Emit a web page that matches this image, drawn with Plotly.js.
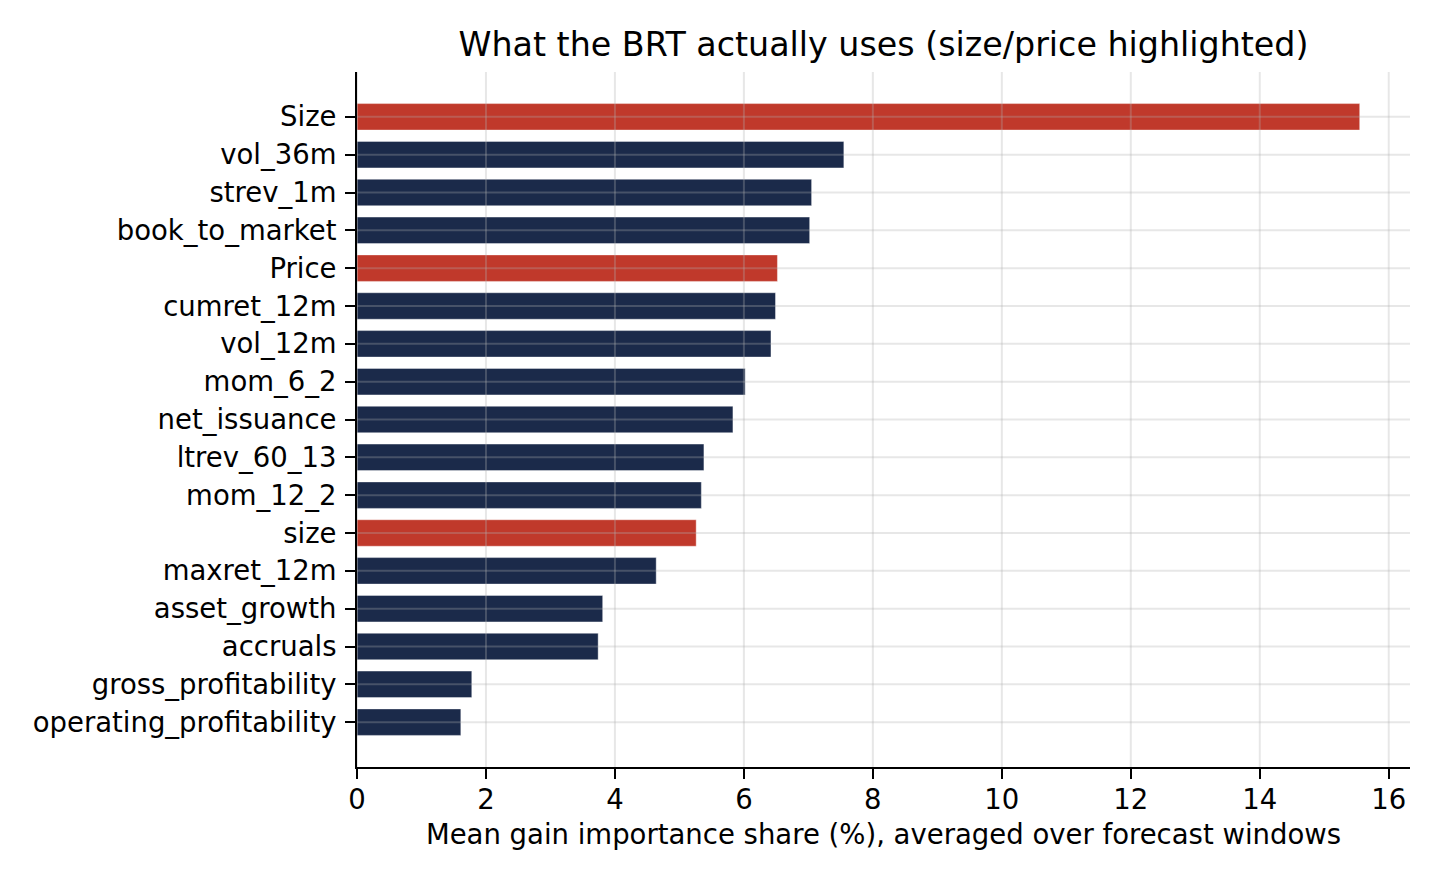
<!DOCTYPE html>
<html>
<head>
<meta charset="utf-8">
<script src="https://cdn.plot.ly/plotly-3.0.1.min.js"></script>
<style>
  html, body { margin: 0; padding: 0; background: #fff; }
  #chart { width: 1440px; height: 880px; }
</style>
</head>
<body>
<div id="chart"></div>
<script>
// Features, top to bottom, and their mean gain importance share (%)
var features = ['Size', 'vol_36m', 'strev_1m', 'book_to_market', 'Price', 'cumret_12m',
  'vol_12m', 'mom_6_2', 'net_issuance', 'ltrev_60_13', 'mom_12_2', 'size',
  'maxret_12m', 'asset_growth', 'accruals', 'gross_profitability', 'operating_profitability']
var importance = [15.55, 7.55, 7.05, 7.02, 6.52, 6.49, 6.42, 6.02, 5.83, 5.38, 5.34, 5.26,
  4.64, 3.81, 3.74, 1.78, 1.61]
// size/price features get highlighted
var highlighted = ['Size', 'Price', 'size']
var xTicks = [0, 2, 4, 6, 8, 10, 12, 14, 16]

var NAVY = '#1b2a4a'
var RED = '#c0392b'
var GRID = 'rgba(176,176,176,0.3)'

var colors = features.map(f => highlighted.indexOf(f) >= 0 ? RED : NAVY)

var chart_data = [
  {
    x: importance,
    y: features,
    type: 'bar',
    orientation: 'h',
    width: 0.7,
    marker: {
      color: colors,
      line: { color: 'rgba(255,255,255,0.5)', width: 0.8 }
    },
    hoverinfo: 'x+y'
  }
]

// matplotlib draws its grid above the bars here, so use shapes on top
var grid_shapes = []
xTicks.forEach(t => grid_shapes.push({
  type: 'line', layer: 'above', xref: 'x', yref: 'paper',
  x0: t, x1: t, y0: 0, y1: 1, line: { color: GRID, width: 2 }
}))
features.forEach(f => grid_shapes.push({
  type: 'line', layer: 'above', xref: 'paper', yref: 'y',
  x0: 0, x1: 1, y0: f, y1: f, line: { color: GRID, width: 2 }
}))

var font = { family: 'DejaVu Sans, sans-serif', size: 27.5, color: '#000' }

var chart_layout = {
  width: 1440,
  height: 880,
  margin: { l: 357, r: 30, t: 72, b: 113 },
  paper_bgcolor: '#fff',
  plot_bgcolor: '#fff',
  font: font,
  showlegend: false,
  title: {
    text: 'What the BRT actually uses (size/price highlighted)',
    font: { family: 'DejaVu Sans, sans-serif', size: 33.3, color: '#000' },
    x: 0.5, xref: 'paper', xanchor: 'center',
    y: 1, yref: 'paper', yanchor: 'bottom',
    pad: { b: 16 }
  },
  xaxis: {
    range: [0, 16.33],
    tickvals: xTicks,
    ticktext: xTicks.map(String),
    showgrid: false,
    zeroline: false,
    showline: true,
    linecolor: '#000',
    linewidth: 2,
    ticks: 'outside',
    ticklen: 10,
    tickwidth: 2,
    tickcolor: '#000',
    tickfont: font,
    ticklabelstandoff: -3,
    title: {
      text: 'Mean gain importance share (%), averaged over forecast windows',
      font: font,
      standoff: 11
    }
  },
  yaxis: {
    type: 'category',
    categoryorder: 'array',
    categoryarray: features,
    range: [17.185, -1.185],
    showgrid: false,
    zeroline: false,
    showline: true,
    linecolor: '#000',
    linewidth: 2,
    ticks: 'outside',
    ticklen: 10,
    tickwidth: 2,
    tickcolor: '#000',
    tickfont: font,
    ticklabelstandoff: 3
  },
  shapes: grid_shapes
}

Plotly.newPlot('chart', chart_data, chart_layout, { displayModeBar: false })
</script>
</body>
</html>
